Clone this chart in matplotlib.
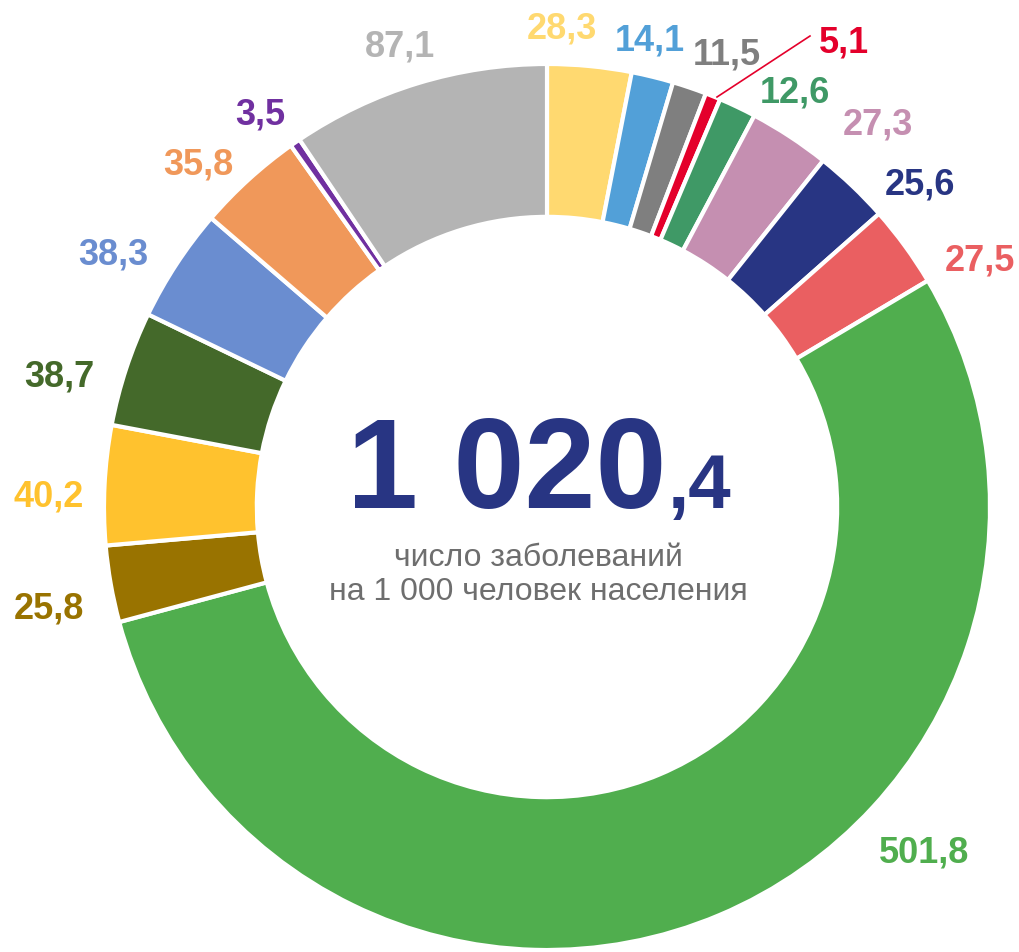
import matplotlib.pyplot as plt

plt.rcParams['font.family'] = ['Liberation Sans', 'DejaVu Sans']

# значения по часовой стрелке от 12 часов
values = [28.3, 14.1, 11.5, 5.1, 12.6, 27.3, 25.6, 27.5, 501.8,
          25.8, 40.2, 38.7, 38.3, 35.8, 3.5, 87.1]
labels = ['28,3', '14,1', '11,5', '5,1', '12,6', '27,3', '25,6', '27,5', '501,8',
          '25,8', '40,2', '38,7', '38,3', '35,8', '3,5', '87,1']
colors = ['#FFD970', '#52A0D8', '#7F7F7F', '#E4002B', '#3F9966', '#C58FB1',
          '#283583', '#EA5F61', '#50AE4E', '#997300', '#FFC22E', '#44692A',
          '#6A8DD0', '#F0985A', '#7030A0', '#B4B4B4']
total_text = '1 020'
total_dec = ',4'
subtitle = ['число заболеваний', 'на 1 000 человек населения']

# позиции подписей: центр по x, базовая линия по y (пиксели от левого верхнего угла)
label_pos = [(562, 38), (650, 50), (727, 65), (844, 52), (795, 103), (878, 135),
             (920, 195), (980, 270), (924, 863), (49, 618), (49, 507), (59, 387),
             (113, 265), (198, 175), (260, 125), (400, 57)]

W, H = 1020, 953
fig = plt.figure(figsize=(W / 100, H / 100), dpi=100)
ax = fig.add_axes([0, 0, 1, 1])

cx, cy, r = 547, H - 508, 443
ax.pie(values, colors=colors, startangle=90, counterclock=False,
       center=(cx, cy), radius=r, frame=True,
       wedgeprops=dict(width=r * 0.345, edgecolor='white', linewidth=3))
ax.set_xlim(0, W)
ax.set_ylim(0, H)
ax.set_aspect('equal')
ax.axis('off')

for lab, (x, y), c in zip(labels, label_pos, colors):
    ax.text(x, H - y, lab, color=c, fontsize=26, fontweight='bold',
            ha='center', va='baseline')

# линия-выноска для 5,1
ax.plot([810, 717], [H - 37, H - 98], color='#E4002B', lw=1.2)

# число в центре
ax.text(667, H - 508, total_text, color='#283583', fontsize=92, fontweight='bold',
        ha='right', va='baseline')
ax.text(668, H - 508, total_dec, color='#283583', fontsize=55, fontweight='bold',
        ha='left', va='baseline')
ax.text(538, H - 566, subtitle[0], color='#6E6E6E', fontsize=23,
        ha='center', va='baseline')
ax.text(538, H - 600, subtitle[1], color='#6E6E6E', fontsize=23,
        ha='center', va='baseline')

fig.savefig('out.png', dpi=100)
